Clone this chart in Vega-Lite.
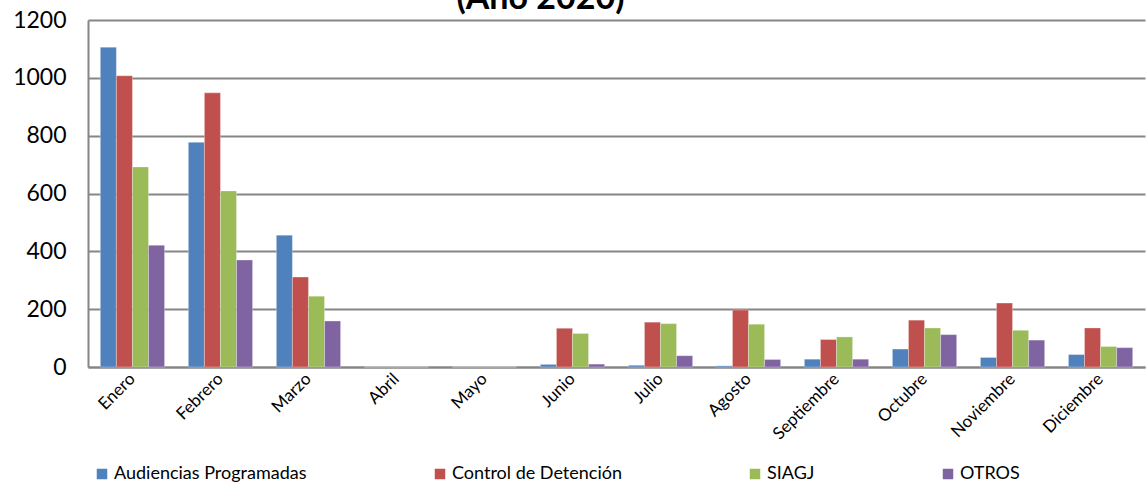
{
  "$schema": "https://vega.github.io/schema/vega-lite/v6.json",
  "width": 1057,
  "height": 347,
  "autosize": {"type": "none"},
  "padding": {"left": 88, "top": 20, "right": 2, "bottom": 119},
  "background": "white",
  "title": {
    "text": "(Año 2020)",
    "font": "Lato",
    "fontSize": 34,
    "fontWeight": "bold",
    "color": "black",
    "anchor": "middle",
    "dx": -76,
    "baseline": "alphabetic",
    "offset": 0,
    "dy": 34
  },
  "config": {
    "view": {"stroke": null},
    "font": "Lato"
  },
  "data": {
    "values": [
      {"mes": "Enero", "serie": "Audiencias Programadas", "valor": 1106},
      {"mes": "Enero", "serie": "Control de Detención", "valor": 1007},
      {"mes": "Enero", "serie": "SIAGJ", "valor": 692},
      {"mes": "Enero", "serie": "OTROS", "valor": 421},
      {"mes": "Febrero", "serie": "Audiencias Programadas", "valor": 777},
      {"mes": "Febrero", "serie": "Control de Detención", "valor": 948},
      {"mes": "Febrero", "serie": "SIAGJ", "valor": 609},
      {"mes": "Febrero", "serie": "OTROS", "valor": 370},
      {"mes": "Marzo", "serie": "Audiencias Programadas", "valor": 456},
      {"mes": "Marzo", "serie": "Control de Detención", "valor": 311},
      {"mes": "Marzo", "serie": "SIAGJ", "valor": 245},
      {"mes": "Marzo", "serie": "OTROS", "valor": 159},
      {"mes": "Abril", "serie": "Audiencias Programadas", "valor": 0},
      {"mes": "Abril", "serie": "Control de Detención", "valor": 0},
      {"mes": "Abril", "serie": "SIAGJ", "valor": 0},
      {"mes": "Abril", "serie": "OTROS", "valor": 0},
      {"mes": "Mayo", "serie": "Audiencias Programadas", "valor": 0},
      {"mes": "Mayo", "serie": "Control de Detención", "valor": 0},
      {"mes": "Mayo", "serie": "SIAGJ", "valor": 0},
      {"mes": "Mayo", "serie": "OTROS", "valor": 0},
      {"mes": "Junio", "serie": "Audiencias Programadas", "valor": 9},
      {"mes": "Junio", "serie": "Control de Detención", "valor": 134},
      {"mes": "Junio", "serie": "SIAGJ", "valor": 116},
      {"mes": "Junio", "serie": "OTROS", "valor": 10},
      {"mes": "Julio", "serie": "Audiencias Programadas", "valor": 6},
      {"mes": "Julio", "serie": "Control de Detención", "valor": 155},
      {"mes": "Julio", "serie": "SIAGJ", "valor": 150},
      {"mes": "Julio", "serie": "OTROS", "valor": 39},
      {"mes": "Agosto", "serie": "Audiencias Programadas", "valor": 4},
      {"mes": "Agosto", "serie": "Control de Detención", "valor": 197},
      {"mes": "Agosto", "serie": "SIAGJ", "valor": 148},
      {"mes": "Agosto", "serie": "OTROS", "valor": 26},
      {"mes": "Septiembre", "serie": "Audiencias Programadas", "valor": 27},
      {"mes": "Septiembre", "serie": "Control de Detención", "valor": 95},
      {"mes": "Septiembre", "serie": "SIAGJ", "valor": 104},
      {"mes": "Septiembre", "serie": "OTROS", "valor": 27},
      {"mes": "Octubre", "serie": "Audiencias Programadas", "valor": 62},
      {"mes": "Octubre", "serie": "Control de Detención", "valor": 162},
      {"mes": "Octubre", "serie": "SIAGJ", "valor": 135},
      {"mes": "Octubre", "serie": "OTROS", "valor": 112},
      {"mes": "Noviembre", "serie": "Audiencias Programadas", "valor": 33},
      {"mes": "Noviembre", "serie": "Control de Detención", "valor": 221},
      {"mes": "Noviembre", "serie": "SIAGJ", "valor": 127},
      {"mes": "Noviembre", "serie": "OTROS", "valor": 93},
      {"mes": "Diciembre", "serie": "Audiencias Programadas", "valor": 43},
      {"mes": "Diciembre", "serie": "Control de Detención", "valor": 135},
      {"mes": "Diciembre", "serie": "SIAGJ", "valor": 71},
      {"mes": "Diciembre", "serie": "OTROS", "valor": 67}
    ]
  },
  "mark": {"type": "bar", "stroke": "white", "strokeWidth": 0.5, "strokeOpacity": 0.6},
  "encoding": {
    "x": {
      "field": "mes",
      "type": "nominal",
      "sort": ["Enero", "Febrero", "Marzo", "Abril", "Mayo", "Junio", "Julio", "Agosto", "Septiembre", "Octubre", "Noviembre", "Diciembre"],
      "scale": {"paddingInner": 0.27, "paddingOuter": 0.14},
      "axis": {
        "title": null,
        "labelAngle": -45,
        "labelAlign": "right",
        "labelBaseline": "middle",
        "labelFontSize": 17,
        "labelColor": "black",
        "labelPadding": 9,
        "ticks": false,
        "domainColor": "#868686",
        "domainWidth": 2
      }
    },
    "xOffset": {
      "field": "serie",
      "type": "nominal",
      "sort": ["Audiencias Programadas", "Control de Detención", "SIAGJ", "OTROS"],
      "scale": {"paddingInner": 0, "paddingOuter": 0}
    },
    "y": {
      "field": "valor",
      "type": "quantitative",
      "scale": {"domain": [0, 1200], "nice": false},
      "axis": {
        "title": null,
        "values": [0, 200, 400, 600, 800, 1000, 1200],
        "format": "d",
        "labelFontSize": 23,
        "labelColor": "black",
        "labelPadding": 22,
        "ticks": false,
        "domainColor": "#868686",
        "domainWidth": 2,
        "gridColor": "#868686",
        "gridWidth": 1.8
      }
    },
    "color": {
      "field": "serie",
      "type": "nominal",
      "sort": ["Audiencias Programadas", "Control de Detención", "SIAGJ", "OTROS"],
      "scale": {
        "domain": ["Audiencias Programadas", "Control de Detención", "SIAGJ", "OTROS"],
        "range": ["#4F81BD", "#C0504D", "#9BBB59", "#8064A2"]
      },
      "legend": {
        "title": null,
        "orient": "none",
        "direction": "horizontal",
        "legendX": 5,
        "legendY": 445,
        "symbolType": "square",
        "symbolSize": 110,
        "symbolStrokeWidth": 0,
        "labelFontSize": 18,
        "labelColor": "black",
        "labelOffset": 3,
        "labelLimit": 300,
        "columnPadding": 124
      }
    }
  }
}
